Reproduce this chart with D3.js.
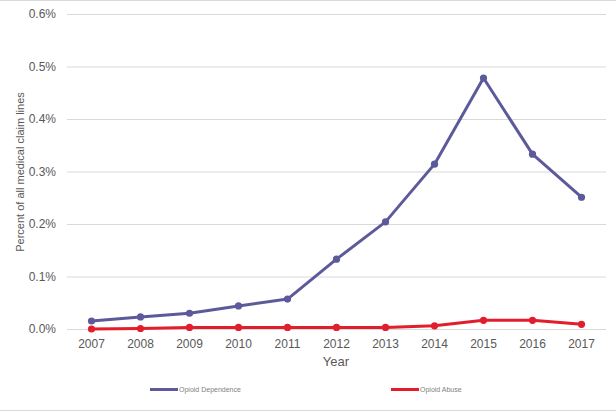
<!DOCTYPE html>
<html>
<head>
<meta charset="utf-8">
<script src="https://cdn.jsdelivr.net/npm/d3@7"></script>
<style>
  body { margin: 0; background: #fff; }
  text { font-family: "Liberation Sans", Arial, sans-serif; }
</style>
</head>
<body>
<svg id="chart" width="616" height="412"></svg>
<script>
const years = [2007, 2008, 2009, 2010, 2011, 2012, 2013, 2014, 2015, 2016, 2017];
const dependence = [0.0152, 0.023, 0.030, 0.044, 0.057, 0.133, 0.204, 0.314, 0.478, 0.333, 0.251];
const abuse = [0.000, 0.001, 0.003, 0.003, 0.003, 0.003, 0.003, 0.006, 0.0166, 0.0166, 0.009];
const yTicks = [0, 0.1, 0.2, 0.3, 0.4, 0.5, 0.6];

const series = [
  { name: "Opioid Dependence", values: dependence, color: "#5d5a9b", legendX: 150 },
  { name: "Opioid Abuse", values: abuse, color: "#e21e2d", legendX: 391 }
];

const svg = d3.select("#chart");
const width = +svg.attr("width");

// frame lines top and bottom only
svg.append("g")
  .selectAll("line")
  .data([0.5, 410.5])
  .join("line")
  .attr("x1", 0).attr("x2", width)
  .attr("y1", d => d).attr("y2", d => d)
  .attr("stroke", "#d9d9d9");

const x = d3.scalePoint()
  .domain(years)
  .range([67, 606])
  .padding(0.5);

const y = d3.scaleLinear()
  .domain([0, 0.6])
  .range([329, 14]);

// gridlines
svg.append("g")
  .selectAll("line")
  .data(yTicks)
  .join("line")
  .attr("x1", 67).attr("x2", 606)
  .attr("y1", d => y(d) + 0.5).attr("y2", d => y(d) + 0.5)
  .attr("stroke", "#d9d9d9")
  .attr("stroke-width", 1);

// y tick labels
svg.append("g")
  .selectAll("text")
  .data(yTicks)
  .join("text")
  .attr("x", 56)
  .attr("y", d => y(d))
  .attr("dy", "0.35em")
  .attr("text-anchor", "end")
  .attr("font-size", 12)
  .attr("fill", "#595959")
  .text(d => d.toFixed(1) + "%");

// x tick labels
svg.append("g")
  .selectAll("text")
  .data(years)
  .join("text")
  .attr("x", d => x(d))
  .attr("y", 348)
  .attr("text-anchor", "middle")
  .attr("font-size", 12)
  .attr("fill", "#595959")
  .text(d => d);

svg.append("text")
  .attr("x", 336)
  .attr("y", 366)
  .attr("text-anchor", "middle")
  .attr("font-size", 13)
  .attr("fill", "#595959")
  .text("Year");

svg.append("text")
  .attr("transform", "translate(24,172) rotate(-90)")
  .attr("text-anchor", "middle")
  .attr("font-size", 11)
  .attr("fill", "#595959")
  .text("Percent of all medical claim lines");

const line = d3.line()
  .x((d, i) => x(years[i]))
  .y(d => y(d));

series.forEach(s => {
  const g = svg.append("g");
  g.append("path")
    .datum(s.values)
    .attr("d", line)
    .attr("fill", "none")
    .attr("stroke", s.color)
    .attr("stroke-width", 3)
    .attr("stroke-linejoin", "round");
  g.selectAll("circle")
    .data(s.values)
    .join("circle")
    .attr("cx", (d, i) => x(years[i]))
    .attr("cy", d => y(d))
    .attr("r", 3.6)
    .attr("fill", s.color);

  // legend
  const lg = svg.append("g");
  lg.append("line")
    .attr("x1", s.legendX).attr("x2", s.legendX + 28)
    .attr("y1", 389.5).attr("y2", 389.5)
    .attr("stroke", s.color)
    .attr("stroke-width", 3);
  lg.append("circle")
    .attr("cx", s.legendX + 14).attr("cy", 389.5)
    .attr("r", 1.5)
    .attr("fill", s.color);
  lg.append("text")
    .attr("x", s.legendX + 29)
    .attr("y", 389.5)
    .attr("dy", "0.35em")
    .attr("font-size", 7)
    .attr("fill", "#7f7f7f")
    .text(s.name);
});
</script>
</body>
</html>
